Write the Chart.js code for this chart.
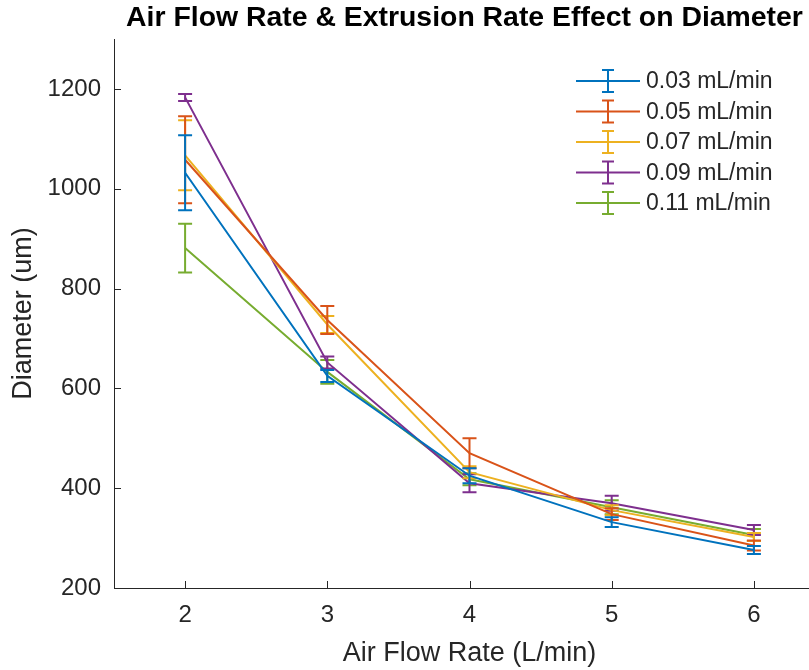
<!DOCTYPE html>
<html>
<head>
<meta charset="utf-8">
<script src="https://cdn.jsdelivr.net/npm/chart.js@4"></script>
<style>
  html, body { margin: 0; padding: 0; background: #fff; overflow: hidden; }
  #wrap { width: 840px; height: 670px; }
</style>
</head>
<body>
<div id="wrap"><canvas id="chart" width="840" height="670"></canvas></div>
<script>
// Data
const airFlow = [2, 3, 4, 5, 6];
const yTickValues = [200, 400, 600, 800, 1000, 1200];

const seriesLabels = ['0.03 mL/min', '0.05 mL/min', '0.07 mL/min', '0.09 mL/min', '0.11 mL/min'];
const diam003 = [1032, 625, 425, 332, 276];
const err003 = [75, 12, 15, 10, 8];
const diam005 = [1058, 737, 470, 348, 285];
const err005 = [87, 28, 30, 12, 10];
const diam007 = [1067, 728, 432, 356, 302];
const err007 = [70, 17, 12, 10, 8];
const diam009 = [1183, 652, 410, 370, 316];
const err009 = [7, 12, 18, 15, 10];
const diam011 = [881, 633, 418, 362, 306];
const err011 = [49, 24, 12, 14, 12];

const colors = ['#0072BD', '#D95319', '#EDB120', '#7E2F8E', '#77AC30'];
const diamSets = [diam003, diam005, diam007, diam009, diam011];
const errSets = [err003, err005, err007, err009, err011];

const FONT = "'Liberation Sans', Arial, Helvetica, sans-serif";
const AXIS_COLOR = '#262626';

// Error bars drawn through the scales, after each line
const errorBars = {
  id: 'errorBars',
  afterDatasetDraw(chart, args) {
    const i = args.index;
    const ds = chart.data.datasets[i];
    const errs = errSets[i];
    const xs = chart.scales.x, ys = chart.scales.y;
    const ctx = chart.ctx;
    ctx.save();
    ctx.strokeStyle = ds.borderColor;
    ctx.lineWidth = 2;
    ds.data.forEach((p, j) => {
      const x = xs.getPixelForValue(p.x);
      const yt = ys.getPixelForValue(p.y + errs[j]);
      const yb = ys.getPixelForValue(p.y - errs[j]);
      ctx.beginPath();
      ctx.moveTo(x, yt); ctx.lineTo(x, yb);
      ctx.moveTo(x - 7, yt); ctx.lineTo(x + 7, yt);
      ctx.moveTo(x - 7, yb); ctx.lineTo(x + 7, yb);
      ctx.stroke();
    });
    ctx.restore();
  }
};

// Inward ticks, title over the plot area, and the legend inside the axes
const decorations = {
  id: 'decorations',
  afterDraw(chart) {
    const ctx = chart.ctx;
    const area = chart.chartArea;
    const xs = chart.scales.x, ys = chart.scales.y;
    ctx.save();
    ctx.strokeStyle = AXIS_COLOR;
    ctx.lineWidth = 1;
    ctx.beginPath();
    xs.ticks.forEach(t => {
      const x = Math.round(xs.getPixelForValue(t.value)) + 0.5;
      ctx.moveTo(x, area.bottom); ctx.lineTo(x, area.bottom - 7);
    });
    ys.ticks.forEach(t => {
      const y = Math.round(ys.getPixelForValue(t.value)) + 0.5;
      ctx.moveTo(area.left, y); ctx.lineTo(area.left + 7, y);
    });
    ctx.stroke();

    // title
    ctx.fillStyle = '#000';
    ctx.font = 'bold 28.4px ' + FONT;
    ctx.textAlign = 'center';
    ctx.textBaseline = 'middle';
    ctx.fillText('Air Flow Rate & Extrusion Rate Effect on Diameter', (area.left + area.right) / 2 - 5, 18);

    // legend
    ctx.font = '23px ' + FONT;
    ctx.textAlign = 'left';
    ctx.fillStyle = AXIS_COLOR;
    chart.data.datasets.forEach((ds, i) => {
      const y = 81 + i * 30.5;
      ctx.strokeStyle = ds.borderColor;
      ctx.lineWidth = 2;
      ctx.beginPath();
      ctx.moveTo(576, y); ctx.lineTo(640, y);
      ctx.moveTo(608, y - 11); ctx.lineTo(608, y + 11);
      ctx.moveTo(602, y - 11); ctx.lineTo(614, y - 11);
      ctx.moveTo(602, y + 11); ctx.lineTo(614, y + 11);
      ctx.stroke();
      ctx.fillText(ds.label, 646, y + 1);
    });
    ctx.restore();
  }
};

const datasets = diamSets.map((vals, i) => ({
  label: seriesLabels[i],
  data: airFlow.map((x, j) => ({ x: x, y: vals[j] })),
  borderColor: colors[i],
  backgroundColor: colors[i],
  borderWidth: 2,
  pointRadius: 0,
  tension: 0,
  fill: false
}));

new Chart(document.getElementById('chart'), {
  type: 'line',
  data: { datasets: datasets },
  plugins: [errorBars, decorations],
  options: {
    responsive: false,
    animation: false,
    layout: { padding: { top: 39, right: 15, left: 0, bottom: 0 } },
    plugins: {
      legend: { display: false },
      title: { display: false },
      tooltip: { enabled: false }
    },
    scales: {
      x: {
        type: 'linear',
        min: 1.5,
        max: 6.5,
        afterBuildTicks: s => { s.ticks = airFlow.map(v => ({ value: v })); },
        afterFit: s => { s.height = 82; },
        grid: { drawOnChartArea: false, drawTicks: false },
        border: { display: true, color: AXIS_COLOR, width: 1 },
        ticks: { color: AXIS_COLOR, padding: 13, font: { family: FONT, size: 24 }, maxRotation: 0,
                 callback: v => String(v) },
        title: {
          display: true,
          text: 'Air Flow Rate (L/min)',
          color: AXIS_COLOR,
          font: { family: FONT, size: 27 },
          padding: { top: 2, bottom: 0 }
        }
      },
      y: {
        type: 'linear',
        min: 200,
        max: 1300,
        afterBuildTicks: s => { s.ticks = yTickValues.map(v => ({ value: v })); },
        afterFit: s => { s.width = 114; },
        grid: { drawOnChartArea: false, drawTicks: false },
        border: { display: true, color: AXIS_COLOR, width: 1 },
        ticks: { color: AXIS_COLOR, padding: 13, font: { family: FONT, size: 24 },
                 callback: v => String(v) },
        title: {
          display: true,
          text: 'Diameter (um)',
          color: AXIS_COLOR,
          font: { family: FONT, size: 27 },
          padding: { top: 7, bottom: 0 }
        }
      }
    }
  }
});
</script>
</body>
</html>
